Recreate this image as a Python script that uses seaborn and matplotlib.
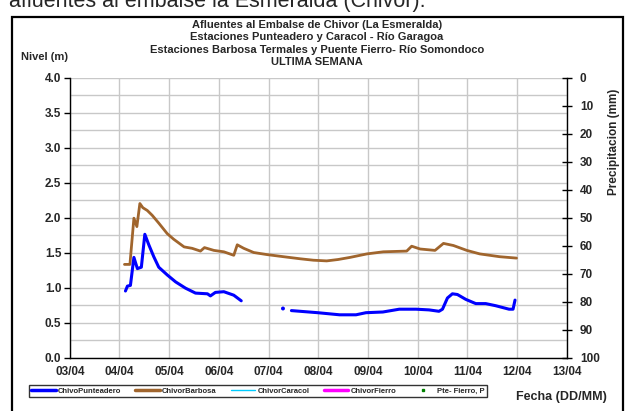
import numpy as np
import pandas as pd
import matplotlib

matplotlib.use("Agg")
import matplotlib.pyplot as plt
import matplotlib.dates as mdates
from matplotlib.lines import Line2D
from matplotlib.patches import Rectangle
import seaborn as sns

# day of April (fractional) and level in metres
barbosa_day = [4.10, 4.21, 4.29, 4.35, 4.41, 4.47, 4.56, 4.66, 4.79, 4.96, 5.09, 5.30, 5.46,
               5.63, 5.71, 5.90, 6.10, 6.30, 6.37, 6.50, 6.70, 6.97, 7.30, 7.64, 7.90, 8.17,
               8.40, 8.64, 8.98, 9.31, 9.78, 9.88, 10.05, 10.35, 10.52, 10.72, 10.99, 11.25,
               11.65, 11.99]
barbosa_level = [1.33, 1.33, 1.99, 1.87, 2.20, 2.14, 2.10, 2.03, 1.92, 1.77, 1.69, 1.58, 1.56,
                 1.52, 1.57, 1.53, 1.51, 1.46, 1.61, 1.56, 1.50, 1.47, 1.44, 1.41, 1.39, 1.38,
                 1.40, 1.43, 1.48, 1.51, 1.52, 1.59, 1.55, 1.53, 1.63, 1.60, 1.53, 1.48,
                 1.44, 1.42]

punteadero_day_a = [4.12, 4.16, 4.22, 4.29, 4.36, 4.44, 4.51, 4.59, 4.69, 4.79, 4.96, 5.13,
                    5.33, 5.53, 5.77, 5.83, 5.93, 6.10, 6.30, 6.45]
punteadero_level_a = [0.95, 1.02, 1.03, 1.43, 1.27, 1.29, 1.76, 1.61, 1.44, 1.29, 1.18, 1.08,
                      0.99, 0.92, 0.91, 0.88, 0.93, 0.94, 0.89, 0.81]
punteadero_day_b = [7.46, 7.99, 8.43, 8.76, 8.96, 9.30, 9.63, 9.97, 10.23, 10.43, 10.50, 10.60,
                    10.70, 10.80, 10.97, 11.17, 11.37, 11.57, 11.84, 11.92, 11.96]
punteadero_level_b = [0.67, 0.64, 0.61, 0.61, 0.64, 0.65, 0.69, 0.69, 0.68, 0.66, 0.69, 0.85,
                      0.91, 0.90, 0.83, 0.77, 0.77, 0.74, 0.69, 0.69, 0.82]
punteadero_lone_day = [7.29]
punteadero_lone_level = [0.70]

legend_names = ["ChivoPunteadero", "ChivorBarbosa", "ChivorCaracol", "ChivorFierro", "Pte- Fierro, P"]
title_lines = [
    "Afluentes al Embalse de Chivor (La Esmeralda)",
    "Estaciones Punteadero y Caracol - Río Garagoa",
    "Estaciones Barbosa Termales y Puente Fierro- Río Somondoco",
    "ULTIMA SEMANA",
]

BLUE = "#0000FF"
BROWN = "#A0652D"
START = pd.Timestamp("2014-04-01")


def to_dates(days):
    return START + pd.to_timedelta(np.array(days) - 1, unit="D")


sns.set_style("white")
plt.rcParams["font.family"] = ["Liberation Sans", "DejaVu Sans"]
plt.rcParams["font.weight"] = "bold"

fig = plt.figure(figsize=(6.3, 4.11), dpi=100)
ax = fig.add_axes([69.8 / 630, 1 - 357.5 / 411, (566.7 - 69.8) / 630, (357.5 - 77.5) / 411])

barbosa = pd.DataFrame({"fecha": to_dates(barbosa_day), "nivel": barbosa_level})
punteadero = pd.concat([
    pd.DataFrame({"fecha": to_dates(punteadero_day_a), "nivel": punteadero_level_a, "seg": 0}),
    pd.DataFrame({"fecha": to_dates(punteadero_day_b), "nivel": punteadero_level_b, "seg": 1}),
])

sns.lineplot(data=barbosa, x="fecha", y="nivel", color=BROWN, lw=2.0, ax=ax, zorder=3)
sns.lineplot(data=punteadero, x="fecha", y="nivel", units="seg", estimator=None,
             color=BLUE, lw=2.2, ax=ax, zorder=4)
sns.scatterplot(x=to_dates(punteadero_lone_day), y=punteadero_lone_level, color=BLUE,
                s=8, marker="o", edgecolor="none", ax=ax, zorder=4)

ax.set_xlim(to_dates([3])[0], to_dates([13])[0])
ax.set_ylim(0, 4)
ax.xaxis.set_major_locator(mdates.DayLocator())
ax.xaxis.set_major_formatter(mdates.DateFormatter("%d/%m"))
ax.set_yticks(np.arange(0, 4.01, 0.5))
ax.set_yticks(np.arange(0.25, 4.0, 0.5), minor=True)
ax.yaxis.set_major_formatter(matplotlib.ticker.FormatStrFormatter("%.1f"))
ax.grid(True, which="both", color="#c8c8c8", lw=1.0)
ax.set_axisbelow(True)
ax.set_xlabel("")
ax.set_ylabel("")
for side in ["top", "right"]:
    ax.spines[side].set_visible(False)
for side in ["left", "bottom"]:
    ax.spines[side].set_color("black")
    ax.spines[side].set_linewidth(1.0)
ax.tick_params(axis="both", which="major", direction="out", length=4, width=1,
               color="black", labelsize=8.5, pad=2)
ax.tick_params(axis="y", which="minor", length=0)
for lbl in ax.get_xticklabels() + ax.get_yticklabels():
    lbl.set_fontweight("bold")

ax2 = ax.twinx()
ax2.set_ylim(100, 0)
ax2.set_yticks(np.arange(0, 101, 10))
for side in ["top", "left", "bottom"]:
    ax2.spines[side].set_visible(False)
ax2.spines["right"].set_color("black")
ax2.spines["right"].set_linewidth(1.0)
ax2.tick_params(axis="y", direction="inout", length=7, width=1, color="black",
                labelsize=8.5, pad=6)
for lbl in ax2.get_yticklabels():
    lbl.set_fontweight("bold")
ax2.set_ylabel("Precipitacion (mm)", fontsize=8.5, fontweight="bold")
ax2.yaxis.set_label_coords(1.083, 0.77)

for i, line in enumerate(title_lines):
    fig.text(0.503, 1 - (25 + 12.3 * i) / 411, line, ha="center", va="center",
             fontsize=8, fontweight="bold")
fig.text(21 / 630, 1 - 57 / 411, "Nivel (m)", ha="left", va="center", fontsize=8, fontweight="bold")
fig.text(561 / 630, 1 - 397 / 411, "Fecha (DD/MM)", ha="center", va="center",
         fontsize=9, fontweight="bold")

handles = [
    Line2D([], [], color=BLUE, lw=2.5),
    Line2D([], [], color=BROWN, lw=2.5),
    Line2D([], [], color="#00CCFF", lw=1.0),
    Line2D([], [], color="#FF00FF", lw=2.5),
    Line2D([], [], color="#008000", lw=0, marker="s", markersize=1.8),
]
leg = fig.legend(handles, legend_names, loc="center", ncol=5,
                 bbox_to_anchor=(258 / 630, 1 - 391 / 411),
                 frameon=True, fancybox=False, handlelength=3.2, columnspacing=1.85,
                 handletextpad=0.3, borderpad=0.35, prop={"size": 5.5, "weight": "bold"})
leg.get_frame().set_edgecolor("black")
leg.get_frame().set_linewidth(1.0)

fig.text(9 / 630, 1 - 7 / 411, "afluentes al embalse la Esmeralda (Chivor).",
         ha="left", va="baseline", fontsize=15.5, fontweight="normal")

fig.add_artist(Rectangle((12 / 630, -0.02), (623 - 12) / 630, 1 - 16.7 / 411 + 0.02,
                         transform=fig.transFigure, fill=False, edgecolor="black", lw=1.6))

fig.savefig("out.png", dpi=100)
